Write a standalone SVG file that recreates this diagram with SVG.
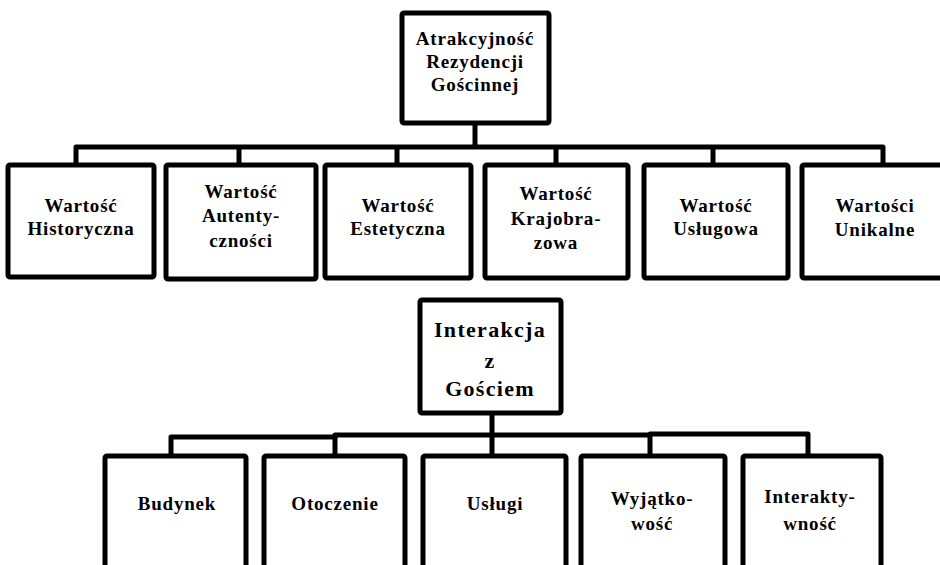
<svg xmlns="http://www.w3.org/2000/svg" width="940" height="565" viewBox="0 0 940 565">
<style>
.box{fill:#fff;stroke:#000;stroke-width:5;stroke-linejoin:round}
.con{fill:none;stroke:#000;stroke-width:5;stroke-linejoin:round}
text{font-family:"Liberation Serif","Times New Roman",serif;font-weight:bold;font-size:19px;letter-spacing:0.8px;text-anchor:middle;fill:#000}
.big{font-size:22px;letter-spacing:1.3px}
</style>
<rect width="940" height="565" fill="#fff"/>
<g id="connectors">
<path class="con" d="M475,123 V147"/>
<path class="con" d="M76,165 V147 H883 V165"/>
<path class="con" d="M239,147 V165 M397,147 V165 M556,147 V165 M713,147 V165"/>
<path class="con" d="M492,413 V435"/>
<path class="con" d="M171,456 V437 H335 V435 H650 V434 H808 V456"/>
<path class="con" d="M335,435 V456 M492,435 V456 M650,434 V456"/>
</g>
<g id="root">
<rect class="box" x="402" y="13" width="147" height="110" rx="2"/>
<text x="475" y="45">Atrakcyjność</text>
<text x="475" y="68">Rezydencji</text>
<text x="475" y="91">Gościnnej</text>
</g>
<g id="n-historyczna">
<rect class="box" x="8" y="165" width="146" height="112" rx="2"/>
<text x="81" y="212">Wartość</text>
<text x="81" y="235">Historyczna</text>
</g>
<g id="n-autentycznosci">
<rect class="box" x="166" y="165" width="150" height="114" rx="2"/>
<text x="241" y="198">Wartość</text>
<text x="241" y="222">Autenty-</text>
<text x="241" y="247">czności</text>
</g>
<g id="n-estetyczna">
<rect class="box" x="325" y="165" width="146" height="113" rx="2"/>
<text x="398" y="212">Wartość</text>
<text x="398" y="235">Estetyczna</text>
</g>
<g id="n-krajobrazowa">
<rect class="box" x="485" y="165" width="143" height="113" rx="2"/>
<text x="556" y="200">Wartość</text>
<text x="556" y="225">Krajobra-</text>
<text x="556" y="249">zowa</text>
</g>
<g id="n-uslugowa">
<rect class="box" x="644" y="165" width="144" height="113" rx="2"/>
<text x="716" y="212">Wartość</text>
<text x="716" y="235">Usługowa</text>
</g>
<g id="n-unikalne">
<rect class="box" x="802" y="165" width="144" height="113" rx="2"/>
<text x="875" y="212">Wartości</text>
<text x="875" y="236">Unikalne</text>
</g>
<g id="n-interakcja">
<rect class="box" x="420" y="300" width="141" height="113" rx="2"/>
<text class="big" x="490" y="337">Interakcja</text>
<text class="big" x="490" y="368">z</text>
<text class="big" x="490" y="396">Gościem</text>
</g>
<g id="n-budynek">
<rect class="box" x="105" y="456" width="141" height="130" rx="2"/>
<text x="177" y="510">Budynek</text>
</g>
<g id="n-otoczenie">
<rect class="box" x="264" y="456" width="141" height="130" rx="2"/>
<text x="335" y="510">Otoczenie</text>
</g>
<g id="n-uslugi">
<rect class="box" x="423" y="456" width="143" height="130" rx="2"/>
<text x="495" y="510">Usługi</text>
</g>
<g id="n-wyjatkowosc">
<rect class="box" x="581" y="456" width="144" height="130" rx="2"/>
<text x="652" y="505">Wyjątko-</text>
<text x="652" y="530">wość</text>
</g>
<g id="n-interaktywnosc">
<rect class="box" x="743" y="456" width="138" height="130" rx="2"/>
<text x="810" y="503">Interakty-</text>
<text x="810" y="530">wność</text>
</g>
</svg>
